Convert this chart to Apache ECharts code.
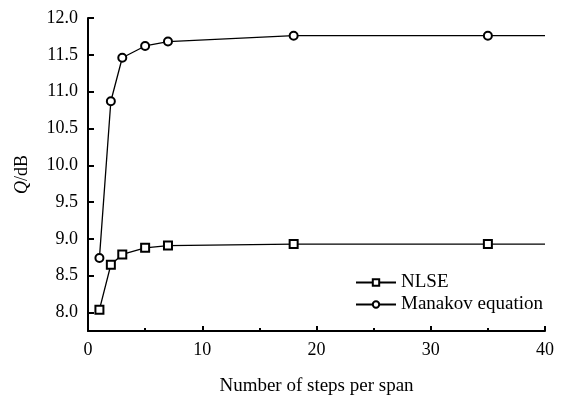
<!DOCTYPE html>
<html>
<head>
<meta charset="utf-8">
<script src="https://cdn.jsdelivr.net/npm/echarts@6/dist/echarts.min.js"></script>
<style>
    html, body { margin: 0; padding: 0; background: #fff; }
    #main { width: 566px; height: 396px; }
</style>
</head>
<body>
<div id="main"></div>
<script>
var steps = [1, 2, 3, 5, 7, 18, 35, 40];
var nlseQ = [8.04, 8.65, 8.79, 8.88, 8.91, 8.93, 8.93, 8.93];
var manakovQ = [8.74, 10.87, 11.46, 11.62, 11.68, 11.76, 11.76, 11.76];
var yTicks = [8.0, 8.5, 9.0, 9.5, 10.0, 10.5, 11.0, 11.5, 12.0];

var fontName = "Liberation Serif";

// last point only carries the line to the axis end, no marker
function buildData(vals) {
    var arr = [];
    for (var i = 0; i < steps.length; i++) {
        var item = { value: [steps[i], vals[i]] };
        if (i == steps.length - 1) {
            item.symbol = "none";
        }
        arr.push(item);
    }
    return arr;
}

var myChart = echarts.init(document.getElementById("main"));
var option = {
    animation: false,
    backgroundColor: "#fff",
    grid: { left: 88, right: 21, top: 18, bottom: 65, outerBoundsMode: "none", containLabel: false },
    legend: {
        orient: "vertical",
        left: 350,
        top: 268,
        itemWidth: 40,
        itemHeight: 8,
        itemGap: 3,
        textStyle: { fontFamily: fontName, fontSize: 19, color: "#000" },
        data: ["NLSE", "Manakov equation"]
    },
    xAxis: {
        type: "value",
        min: 0,
        max: 40,
        interval: 10,
        name: "Number of steps per span",
        nameLocation: "middle",
        nameGap: 46,
        nameTextStyle: { fontFamily: fontName, fontSize: 19, color: "#000" },
        axisLine: { show: true, onZero: false, lineStyle: { color: "#000", width: 2 } },
        axisTick: { inside: true, length: 5, lineStyle: { color: "#000", width: 2 } },
        minorTick: { show: true, splitNumber: 2, length: 3, lineStyle: { color: "#000", width: 2 } },
        axisLabel: { fontFamily: fontName, fontSize: 18, color: "#000", margin: 10 },
        splitLine: { show: false }
    },
    yAxis: {
        type: "value",
        min: 7.75,
        max: 12,
        name: "{i|Q}{n|/dB}",
        nameLocation: "middle",
        nameGap: 57,
        nameTextStyle: {
            fontFamily: fontName, fontSize: 18, color: "#000",
            rich: {
                i: { fontFamily: fontName, fontSize: 18, fontStyle: "italic", color: "#000" },
                n: { fontFamily: fontName, fontSize: 18, color: "#000" }
            }
        },
        axisLine: { show: true, onZero: false, lineStyle: { color: "#000", width: 2 } },
        axisTick: { inside: true, length: 6, customValues: yTicks, lineStyle: { color: "#000", width: 2 } },
        axisLabel: {
            fontFamily: fontName, fontSize: 18, color: "#000", margin: 10,
            customValues: yTicks,
            formatter: function (v) { return v.toFixed(1); }
        },
        splitLine: { show: false }
    },
    series: [
        {
            name: "NLSE",
            type: "line",
            data: buildData(nlseQ),
            symbol: "emptyRect",
            symbolSize: 8,
            color: "#000",
            lineStyle: { color: "#000", width: 1.3 },
            itemStyle: { color: "#000", borderColor: "#000", borderWidth: 1.5 }
        },
        {
            name: "Manakov equation",
            type: "line",
            data: buildData(manakovQ),
            symbol: "emptyCircle",
            symbolSize: 8,
            color: "#000",
            lineStyle: { color: "#000", width: 1.3 },
            itemStyle: { color: "#000", borderColor: "#000", borderWidth: 1.5 }
        }
    ]
};
myChart.setOption(option);
</script>
</body>
</html>
